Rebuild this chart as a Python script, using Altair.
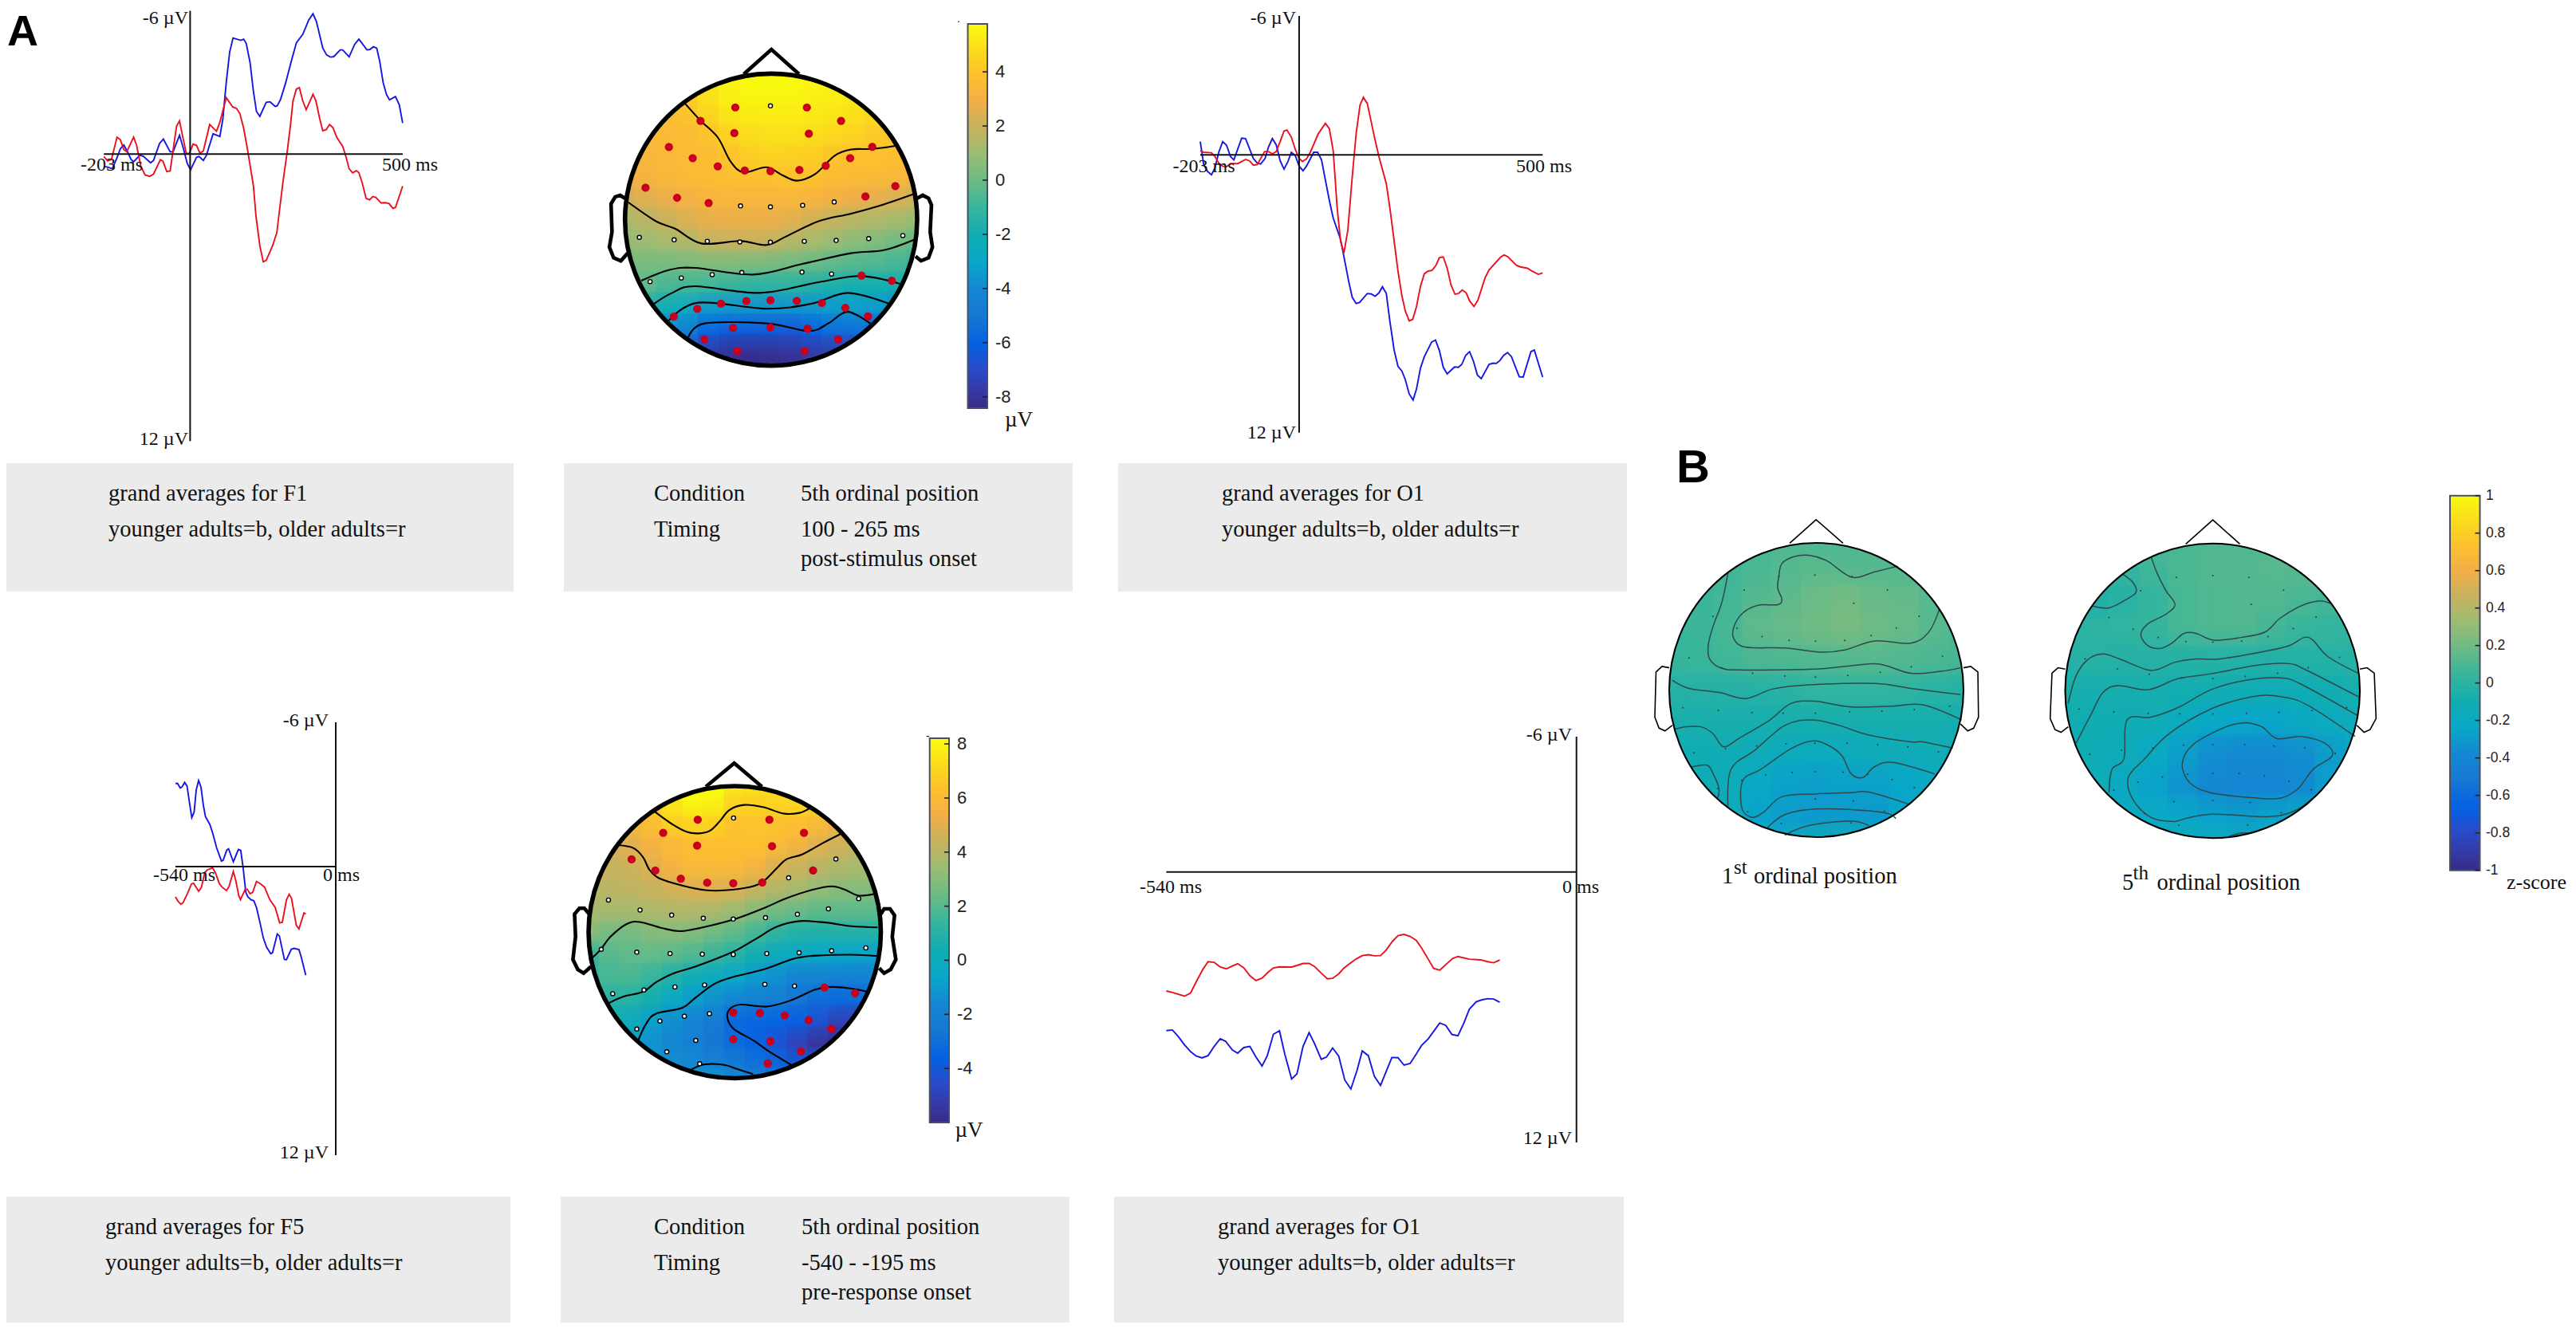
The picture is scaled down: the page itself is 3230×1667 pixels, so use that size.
import altair as alt
import pandas as pd

# ---------------------------------------------------------------- ERP traces (ms, microvolt)
F1_blue_ms = [-203,-194,-183,-173,-164,-156,-147,-139,-133,-118,-110,-93,-86,-72,-63,-47,-40,-25,-15,-7,1,15,21,31,38,54,70,77,85,93,101,119,126,132,141,149,156,164,179,188,200,205,213,225,238,250,265,279,289,297,312,321,330,338,353,359,374,387,397,416,423,431,439,446,454,462,469,483,492,500]
F1_blue_uv = [.51,.54,.61,.19,-.23,-.38,-.09,.22,.32,.04,.09,.36,.26,-.45,-.63,-.10,-.10,-.79,-.19,.38,.66,.13,.10,.26,.06,-.85,-.74,-1.47,-3.0,-4.27,-4.86,-4.76,-4.81,-4.63,-3.83,-2.61,-1.79,-1.58,-2.17,-2.19,-2.0,-2.02,-2.3,-3.0,-3.89,-4.66,-5.01,-5.61,-5.87,-5.55,-4.44,-4.15,-4.06,-4.08,-4.36,-4.36,-4.07,-4.59,-4.81,-4.36,-4.38,-4.49,-4.43,-3.89,-3.0,-2.49,-2.27,-2.41,-2.07,-1.3]
F1_red_ms = [-203,-194,-185,-172,-164,-156,-149,-133,-126,-116,-106,-95,-86,-70,-64,-55,-47,-32,-25,-17,-9,-2,7,15,23,31,46,62,70,85,100,109,117,126,135,142,149,155,164,172,179,194,204,211,219,228,236,242,250,257,265,273,289,296,305,312,320,328,336,345,359,367,374,382,391,397,405,414,422,430,437,449,460,468,477,483,500]
F1_red_uv = [.10,.28,.22,-.71,-.6,-.19,-.1,-.71,-.38,.51,.87,.93,.83,.23,.29,.73,.7,-1.17,-1.39,-.7,-.03,-.03,-.42,-.37,-.04,-.13,-1.24,-.96,-1.34,-2.36,-1.98,-1.91,-1.7,-1.08,-.19,.57,1.34,2.61,3.83,4.5,4.44,3.83,3.28,2.23,1.08,-.06,-1.21,-2.23,-2.72,-2.78,-2.23,-1.86,-2.5,-2.23,-1.47,-.98,-1.02,-1.24,-1.11,-.7,-.32,.13,.61,.78,.69,.77,1.21,1.85,1.91,1.77,1.81,2.04,2.03,2.07,2.27,2.23,1.34]

O1_blue_ms = [-203,-196,-188,-180,-173,-165,-157,-149,-141,-134,-118,-110,-94,-86,-79,-70,-63,-55,-47,-39,-31,-23,-16,-8,0,8,15,30,38,46,55,63,70,85,93,102,109,117,124,140,148,156,164,171,179,186,195,203,211,218,226,234,241,249,257,272,280,288,296,304,319,327,334,342,350,358,366,374,390,398,405,412,420,428,436,452,460,476,483,491,500]
O1_blue_uv = [-.57,.42,.72,.86,.58,-.11,-.57,-.41,.07,.22,-.72,-.7,.16,.36,.4,.16,-.33,-.7,-.43,.26,.62,.29,-.11,.03,.49,.69,.49,-.11,-.11,.22,1.21,2.07,2.73,3.65,4.51,5.49,6.15,6.42,6.38,5.99,6.01,6.11,5.96,5.7,5.99,7.14,8.43,9.14,9.34,9.71,10.33,10.59,10.11,9.22,8.72,8.09,8.0,8.46,9.18,9.46,9.16,9.18,9.05,8.66,8.5,8.92,9.51,9.67,9.05,9.0,9.01,8.89,8.66,8.54,8.72,9.59,9.6,8.5,8.43,8.99,9.6]
O1_red_ms = [-203,-196,-180,-173,-165,-157,-149,-141,-126,-110,-102,-94,-86,-71,-63,-55,-47,-39,-31,-25,-16,-8,0,7,15,23,39,54,62,70,78,85,92,100,109,117,125,132,140,148,156,164,179,187,195,203,211,218,226,233,241,249,257,265,273,281,288,296,304,312,320,327,335,343,350,359,367,382,390,414,421,429,446,454,469,477,491,500]
O1_red_uv = [-.17,-.11,-.09,.07,.36,.49,.51,.38,.38,.2,.26,.45,.42,-.14,-.14,-.04,-.14,-.57,-1.03,-1.07,-.76,-.24,.16,.29,.18,-.11,-.9,-1.36,-1.13,-.17,2.27,3.72,4.24,3.25,.95,-.9,-2.15,-2.48,-2.21,-1.42,-.63,.09,1.25,2.4,3.72,5.03,6.09,6.75,7.17,7.11,6.55,5.69,5.14,5.02,4.99,4.77,4.44,4.41,4.9,5.63,6.02,5.99,5.84,5.96,6.31,6.55,6.28,5.3,4.97,4.41,4.33,4.41,4.77,4.84,4.9,5.01,5.16,5.1]

F5_blue_ms = [-540,-533,-524,-518,-509,-501,-493,-485,-477,-470,-462,-454,-446,-439,-424,-415,-401,-385,-379,-367,-361,-345,-328,-320,-312,-303,-296,-285,-276,-267,-255,-244,-233,-219,-213,-197,-190,-173,-166,-150,-141,-124,-117,-101]
F5_blue_uv = [-3.45,-3.46,-3.27,-3.31,-3.5,-3.35,-2.68,-2.04,-2.27,-3.19,-3.58,-3.31,-2.55,-2.08,-1.75,-1.41,-.77,-.23,-.27,-.69,-.74,-.2,-.71,-.67,.05,1.07,1.26,1.38,1.42,1.7,2.34,2.97,3.35,3.62,3.58,2.8,2.88,3.86,3.87,3.44,3.4,3.45,3.73,4.52]
F5_red_ms = [-540,-531,-522,-515,-500,-486,-479,-462,-453,-441,-433,-415,-406,-392,-383,-368,-359,-345,-336,-327,-321,-305,-298,-289,-280,-267,-254,-240,-222,-204,-189,-180,-166,-157,-149,-133,-124,-107,-101]
F5_red_uv = [1.26,1.45,1.56,1.51,1.13,.72,.69,1.02,.88,.24,.14,.05,.24,.71,.85,1.0,.81,.2,.62,1.19,1.38,.94,.94,1.13,1.07,.62,.71,.85,1.38,1.7,2.34,2.31,1.38,1.15,1.32,2.44,2.59,1.93,1.97]

O1b_red_ms = [-540,-532,-516,-508,-501,-492,-485,-477,-469,-461,-453,-446,-438,-430,-422,-414,-406,-399,-391,-375,-368,-360,-352,-345,-336,-328,-321,-313,-306,-298,-290,-282,-274,-266,-258,-251,-242,-235,-227,-219,-211,-204,-195,-188,-180,-172,-163,-156,-141,-126,-117,-109,-101]
O1b_red_uv = [5.28,5.35,5.51,5.37,4.9,4.33,3.98,4.01,4.22,4.3,4.17,4.07,4.25,4.6,4.82,4.71,4.45,4.26,4.21,4.22,4.15,4.06,4.06,4.19,4.49,4.74,4.72,4.52,4.26,4.05,3.86,3.71,3.67,3.72,3.71,3.48,3.07,2.83,2.77,2.86,3.03,3.37,3.88,4.28,4.36,4.11,3.84,3.75,3.87,3.9,3.98,4.03,3.91]
O1b_blue_ms = [-540,-532,-524,-516,-508,-501,-493,-485,-477,-469,-462,-453,-446,-438,-430,-422,-414,-407,-399,-391,-384,-375,-368,-360,-352,-345,-336,-329,-321,-313,-305,-297,-289,-282,-274,-266,-258,-251,-243,-235,-227,-219,-211,-204,-195,-180,-172,-164,-156,-148,-141,-132,-125,-117,-109,-101]
O1b_blue_uv = [7.04,7.01,7.31,7.67,7.97,8.16,8.25,8.15,7.74,7.4,7.51,7.9,8.04,7.79,7.74,8.21,8.61,8.15,7.2,7.05,8.08,9.19,8.96,7.74,7.13,7.6,8.31,8.21,7.81,8.17,9.23,9.63,8.82,7.94,8.15,9.07,9.47,8.89,8.23,8.24,8.57,8.5,8.08,7.7,7.4,6.7,6.81,7.21,7.27,6.68,6.09,5.76,5.68,5.62,5.64,5.78]

# ---------------------------------------------------------------- scalp maps (head-frame units)
A1_cols = [205,269,333,397,461,525,589,653,717,781,845,909,973,1037,1101]
A1_rows = [240,309,377,446,514,583,651,720,789,857,926,994,1063,1131,1200]
A1_grid = [
 [4.5,4.5,4.5,4.8,5.2,5.6,5.7,5.7,5.7,5.7,5.6,5.5,5.4,5.2,5],
 [3.9,4,4,4.3,5,5.5,5.7,5.7,5.7,5.6,5.5,5.3,5.1,5,4.8],
 [3.6,3.7,3.8,4,4.7,5.2,5.4,5.4,5.4,5.3,5.2,5,4.8,4.6,4.5],
 [3.5,3.5,3.6,3.7,4,4.6,4.9,5,5,4.9,4.8,4.6,4.3,4.1,4],
 [3.3,3.4,3.5,3.6,3.7,3.95,4.4,4.6,4.5,4.4,4,3.9,3.9,3.8,3.7],
 [3.0,3.2,3.4,3.6,3.7,3.8,3.9,3.9,3.95,3.9,3.7,3.6,3.6,3.5,3.2],
 [2.2,2.5,2.8,3.1,3.3,3.4,3.4,3.4,3.4,3.3,3.1,2.9,2.7,2.4,2.1],
 [1.3,1.6,2.0,2.4,2.7,2.8,2.8,2.8,2.6,2.2,1.9,1.6,1.4,1.2,.9],
 [.8,1,1.2,1.4,1.9,1.95,2,1.9,1.5,1.2,.9,.6,.4,.1,-.1],
 [.1,.2,.2,.3,.4,.4,.3,.2,.1,-.1,-.3,-.5,-.6,-.8,-1.1],
 [-.5,-.2,-.7,-.8,-.9,-1.1,-1.3,-1.4,-1.4,-1.6,-1.8,-2,-2,-2.1,-2.3],
 [-3,-2.5,-2.2,-2.7,-3.5,-3.6,-3.7,-3.8,-3.7,-3.6,-3.4,-3.3,-3.5,-3.9,-4],
 [-4.5,-4.5,-4.3,-4.6,-5.8,-6.2,-6.3,-6.3,-6.4,-5.9,-5.5,-5.4,-6.1,-6.2,-6],
 [-6,-6,-6,-6.4,-7.6,-8.1,-8.2,-8.1,-8,-7.7,-7.6,-7.7,-7,-7,-7],
 [-6.5,-6.5,-6.5,-7,-7.9,-8.3,-8.4,-8.4,-8.2,-8,-7.8,-7.5,-7,-7,-7],
]
A1_contours = [
 [(390,340),(437,395),(490,450),(530,530),(570,565),(640,548),(690,575),(735,592),(790,570),(850,510),(900,490),(965,488),(1035,478)],
 [(215,663),(300,725),(360,750),(440,798),(560,790),(640,803),(700,775),(800,725),(900,700),(1000,670),(1095,635)],
 [(255,920),(340,885),(420,878),(600,900),(750,865),(900,830),(1000,820),(1095,785)],
 [(295,995),(350,960),(420,938),(620,960),(800,925),(930,905),(1050,930)],
 [(340,1050),(430,992),(640,1012),(780,995),(890,960),(1015,995)],
 [(400,1105),(450,1060),(640,1060),(770,1085),(830,1060),(890,1022),(965,1065)],
]
A1_red = [(544,352),(764,352),(869,396),(437,396),(541,436),(770,438),(340,482),(965,481),(413,518),(897,518),(490,545),(573,559),(652,561),(741,557),(822,543),(268,615),(1036,610),(365,648),(462,665),(944,644),(932,903),(1025,920),(355,1038),(427,1012),(500,995),(578,987),(652,984),(733,986),(810,993),(882,1009),(952,1037),(537,1075),(652,1073),(766,1077),(449,1112),(860,1112),(550,1151),(758,1151)]
A1_open = [(652,347),(560,675),(652,678),(751,673),(848,662),(249,778),(356,786),(458,791),(558,793),(652,794),(756,791),(854,788),(954,782),(1059,772),(282,923),(378,911),(473,900),(564,893),(749,892),(840,898)]
A1_outline = [
 [(570,243),(655,162),(740,243)],
 [(205,650),(190,640),(175,645),(162,668),(165,760),(157,810),(170,845),(192,855),(213,830)],
 [(1103,650),(1120,640),(1138,650),(1147,672),(1143,760),(1150,810),(1138,845),(1115,855),(1098,840)],
]

A2_cols = [143,207,271,335,399,463,527,591,655,719,783,847,911,975,1039]
A2_rows = [238,312,385,459,533,607,680,754,828,901,975,1049,1123,1196,1270]
A2_grid = [
 [6.5,6.5,7,7.5,7.8,8.1,8.2,7.8,7.5,7.3,7.2,7,6.8,6.5,6.5],
 [6,6.2,6.5,7,7.6,8.2,8.1,7.1,7,7.1,7.3,7,6.7,6.3,6],
 [5.5,5.7,5.9,6.2,6.9,7.1,7,6.4,6.5,6.4,6.3,6.1,5.3,5,4.8],
 [4.8,4.9,5,5.6,6,6.2,6.3,6.3,6.3,6,5.7,5,4.6,4.3,4.1],
 [4.4,4.4,4.5,4.9,5.6,6,6,6,5.7,4.9,4.5,4.1,3.9,3.7,3.5],
 [4.1,4.1,4.2,4.4,4.7,4.95,5,4.9,4.4,4,3.7,3.3,3,3,2.9],
 [3.7,3.7,3.7,3.8,3.9,3.9,3.8,3.5,3,2.6,2.4,2.2,2.2,2.2,2.2],
 [3.1,2.7,2.6,2.9,3,2.9,2.5,2.2,1.7,1.2,.9,.8,.9,.9,.9],
 [1.2,2,2.2,2.3,2.1,1.9,1.5,1,.4,-.1,-.3,-.5,-.6,-.7,-.8],
 [1.2,1.7,1.8,1.4,.9,.2,-.2,-.5,-1,-1.4,-1.9,-1.9,-2,-2,-2],
 [1,1,1,.5,-.3,-.9,-1.3,-1.7,-2,-2.2,-2.7,-3.1,-3.2,-3.2,-3],
 [.6,.4,0,-.8,-1.4,-1.8,-2.4,-3.3,-3.4,-3.5,-3.7,-4.3,-5,-5,-4.5],
 [-.5,-.6,-.8,-1.2,-1.7,-2.1,-2.6,-3.1,-3.6,-4.2,-5,-5.6,-5.8,-5.2,-4.5],
 [-.5,-.6,-.9,-1.1,-1.4,-1.6,-2,-2.3,-2.8,-3.3,-3.8,-4,-4,-4,-4],
 [-.5,-.5,-.6,-.7,-.9,-.9,-1,-1.5,-2,-2.4,-3,-3,-3,-3,-3],
]
A2_contours = [
 [(343,328),(400,375),(445,402),(480,407),(515,398),(545,365),(575,325),(620,307),(680,315),(740,337),(790,335),(822,318)],
 [(232,448),(280,458),(310,490),(330,535),(360,565),(430,590),(500,606),(560,607),(640,595),(680,575),(720,530),(750,498),(800,480),(860,442),(918,408)],
 [(1018,620),(970,625),(930,605),(890,593),(830,605),(750,635),(680,670),(600,705),(520,730),(430,750),(370,740),(300,718),(260,725),(210,770),(180,815),(150,848)],
 [(205,1003),(250,980),(310,963),(350,930),(400,900),(470,875),(540,845),(600,815),(660,775),(720,735),(790,715),(870,720),(950,733),(1030,737)],
 [(295,1135),(320,1075),(350,1040),(430,1020),(470,985),(530,935),(590,910),(680,885),(780,845),(860,835),(950,833),(1030,838)],
 [(765,1220),(700,1175),(650,1135),(590,1095),(570,1060),(575,1025),(610,1008),(690,1015),(760,995),(840,955),(890,946),(950,952),(998,963)],
 [(455,1238),(500,1218),(560,1220),(600,1235),(648,1252)],
]
A2_red = [(478,359),(698,359),(372,405),(804,405),(476,450),(706,452),(275,498),(348,537),(426,566),(507,580),(587,582),(676,579),(832,537),(867,948),(961,968),(587,1036),(669,1038),(745,1046),(818,1063),(888,1093),(587,1130),(701,1137),(795,1173),(693,1215)]
A2_open = [(588,353),(902,497),(757,563),(204,641),(972,636),(301,676),(398,694),(495,705),(587,708),(686,703),(784,691),(879,672),(182,814),(291,824),(393,829),(492,831),(587,832),(690,829),(789,826),(889,819),(994,809),(217,970),(313,957),(408,946),(499,939),(684,937),(775,943),(514,1040),(437,1049),(362,1066),(291,1094),(472,1134),(383,1174),(484,1216)]
A2_outline = [
 [(503,243),(590,160),(675,243)],
 [(145,690),(130,670),(115,670),(100,690),(103,770),(95,850),(110,885),(128,898),(150,875)],
 [(1040,690),(1050,672),(1068,672),(1082,695),(1075,770),(1086,850),(1070,885),(1050,898),(1035,880)],
]

B1_cols = [57,106,155,204,253,302,352,401,450,499,548]
B1_rows = [232,340,448,555,663,771,879,987,1094,1202,1310]
B1_grid = [
 [.05,.05,.08,.08,.1,.1,.1,.1,.1,.1,.1],
 [.05,.05,.07,.09,.12,.13,.12,.12,.11,.1,.1],
 [.03,.05,.07,.12,.14,.18,.2,.17,.16,.12,.1],
 [.03,.05,.08,.15,.17,.2,.22,.19,.17,.13,.1],
 [.03,.05,.07,.1,.11,.12,.13,.13,.12,.1,.08],
 [-.02,-.02,-.02,-.02,-.01,.02,.02,.02,.01,-.01,-.02],
 [-.07,-.07,-.07,-.08,-.08,-.08,-.08,-.08,-.08,-.08,-.1],
 [-.1,-.12,-.12,-.14,-.17,-.18,-.17,-.15,-.14,-.13,-.13],
 [-.1,-.12,-.14,-.22,-.27,-.28,-.27,-.27,-.24,-.2,-.17],
 [-.12,-.14,-.16,-.26,-.28,-.3,-.3,-.3,-.24,-.2,-.15],
 [-.14,-.14,-.14,-.18,-.2,-.1,-.1,-.12,-.18,-.18,-.18],
]
B1_contours = [
 [(155,345),(145,450),(130,540),(122,610),(125,660),(145,692),(180,698),(300,695),(370,680),(410,677),(460,710),(510,703),(543,690)],
 [(438,320),(400,340),(362,360),(320,300),(290,280),(265,285),(245,310),(240,355),(238,400),(245,440),(238,460),(205,462),(180,490),(165,540),(165,585),(185,615),(250,618),(310,633),(350,625),(400,592),(460,600),(490,560),(508,475)],
 [(62,735),(90,765),(140,780),(185,802),(230,767),(290,752),(400,747),(460,765),(543,788)],
 [(545,880),(480,825),(430,830),(360,833),(300,812),(260,820),(225,880),(175,945),(148,978),(130,930),(110,905),(85,905),(65,915)],
 [(155,1195),(160,1060),(200,990),(250,900),(295,880),(340,900),(390,935),(460,960),(480,960),(530,983)],
 [(500,1077),(430,1035),(400,1050),(380,1090),(360,1075),(345,1010),(320,970),(295,957),(260,985),(210,1060),(180,1100),(178,1200),(195,1235),(215,1215),(245,1160),(300,1150),(360,1145),(390,1143),(458,1188)],
 [(220,1275),(250,1225),(300,1205),(370,1208),(420,1220),(435,1240)],
 [(250,1300),(290,1265),(360,1248),(390,1265)],
 [(93,1052),(120,1045),(130,1075),(140,1130),(137,1170)],
]
B1_dots = [(300,352),(240,358),(362,358),(182,407),(421,406),(130,503),(474,502),(170,546),(436,545),(212,576),(257,590),(301,593),(350,590),(394,573),(365,455),(90,654),(513,648),(144,690),(461,687),(196,710),(250,720),(301,724),(355,718),(409,706),(80,836),(139,846),(195,853),(247,855),(301,855),(358,851),(412,848),(466,842),(525,830),(98,1000),(151,985),(203,975),(252,967),(300,965),(354,965),(405,971),(455,978),(506,997),(178,1100),(218,1081),(262,1072),(301,1069),(347,1070),(388,1078),(429,1097),(138,1130),(466,1128),(188,1215),(301,1168),(364,1175),(416,1213),(244,1258),(360,1255)]
B1_outline = [
 [(258,236),(302,150),(347,236)],
 [(57,690),(45,685),(35,705),(33,870),(40,910),(50,920),(62,900)],
 [(548,690),(560,685),(572,705),(573,870),(565,910),(555,920),(543,895)],
]

B2_cols = [717,766,815,864,913,963,1012,1061,1110,1159,1208]
B2_rows = [233,341,449,558,666,774,882,990,1098,1207,1315]
B2_grid = [
 [.03,.05,.06,.08,.1,.1,.1,.1,.1,.1,.1],
 [.02,.02,.03,.07,.1,.12,.12,.13,.13,.1,.1],
 [-.02,-.05,-.02,.03,.09,.11,.12,.12,.1,.08,.06],
 [0,0,.02,.03,.09,.11,.12,.08,.05,.03,.02],
 [-.02,-.01,-.02,-.02,-.02,-.02,-.03,-.03,-.03,-.02,-.02],
 [-.07,-.08,-.08,-.08,-.1,-.1,-.12,-.13,-.12,-.1,-.08],
 [-.1,-.11,-.12,-.13,-.18,-.23,-.25,-.25,-.2,-.17,-.15],
 [-.1,-.12,-.15,-.2,-.28,-.35,-.38,-.38,-.35,-.28,-.2],
 [-.1,-.13,-.2,-.26,-.33,-.39,-.4,-.4,-.37,-.27,-.2],
 [-.12,-.14,-.18,-.2,-.23,-.26,-.28,-.25,-.22,-.2,-.18],
 [-.12,-.14,-.14,-.14,-.14,-.14,-.15,-.16,-.16,-.16,-.16],
]
B2_contours = [
 [(860,285),(870,345),(885,410),(900,460),(885,495),(855,530),(843,570),(855,610),(875,620),(895,600),(915,565),(935,565),(965,590),(1010,580),(1050,560),(1075,510),(1110,465),(1140,447),(1160,457)],
 [(812,348),(830,380),(835,415),(820,440),(790,472),(762,465)],
 [(722,820),(735,720),(755,660),(780,640),(810,660),(860,700),(900,670),(935,658),(975,658),(1050,630),(1090,610),(1115,580),(1130,590),(1155,650),(1205,710)],
 [(735,965),(760,860),(780,780),(805,755),(855,770),(905,730),(960,712),(1040,680),(1090,675),(1120,700),(1205,795)],
 [(790,1145),(795,1060),(815,1020),(820,880),(860,870),(905,835),(960,770),(1020,735),(1075,727),(1110,750),(1205,865)],
 [(900,1250),(860,1235),(830,1170),(822,1090),(850,1020),(890,930),(960,840),(1030,795),(1075,795),(1120,825),(1200,940)],
 [(1020,890),(1045,905),(1070,948),(1110,940),(1150,965),(1162,1010),(1130,1060),(1105,1130),(1075,1165),(1030,1163),(960,1145),(925,1110),(912,1040),(930,970),(985,905),(1020,890)],
 [(900,1250),(960,1223),(1050,1232),(1100,1210),(1145,1135)],
 [(990,1303),(1010,1292),(1028,1292)],
]
B2_dots = [(963,355),(902,361),(1023,361),(843,410),(1081,408),(790,507),(1135,506),(830,550),(1097,548),(872,580),(918,595),(963,597),(1011,593),(1055,577),(1027,459),(750,658),(1174,652),(804,694),(1122,690),(857,714),(911,726),(963,730),(1017,722),(1071,710),(740,841),(798,851),(855,857),(908,858),(963,858),(1019,856),(1073,852),(1128,846),(1186,835),(758,1005),(811,990),(863,982),(914,972),(963,970),(1016,969),(1065,975),(1116,982),(1167,1002),(838,1106),(879,1087),(921,1078),(963,1074),(1007,1075),(1049,1084),(1090,1103),(798,1135),(1127,1134),(849,1220),(898,1177),(963,1173),(1025,1180),(1077,1218),(906,1263),(1021,1263)]
B2_outline = [
 [(918,240),(963,152),(1008,240)],
 [(717,695),(705,690),(695,710),(692,875),(700,915),(710,925),(722,905)],
 [(1208,695),(1220,690),(1232,710),(1235,875),(1225,915),(1215,925),(1203,900)],
]

# colour bar: position along the bar, colour
MAP_POS = [0, .03, .10, .17, .241, .311, .382, .452, .523, .593, .664, .734, .805, .868, .925, 1]
MAP_COL = ["#352A87", "#38349A", "#2A4AC8", "#0562E2", "#1678D2", "#1488D2", "#08A8C8", "#12ADB0", "#38B59C",
           "#6CBB85", "#9DBC72", "#C8B25E", "#F5AF45", "#FCC12E", "#FBD81E", "#F9FB0E"]

A1_ticks = [4, 2, 0, -2, -4, -6, -8]
A2_ticks = [8, 6, 4, 2, 0, -2, -4]
B_ticks = [1, .8, .6, .4, .2, 0, -.2, -.4, -.6, -.8, -1]
B_tick_text = ["1", "0.8", "0.6", "0.4", "0.2", "0", "-0.2", "-0.4", "-0.6", "-0.8", "-1"]

SERIF = "Liberation Serif"
SANS = "Liberation Sans"
BLUE, RED = "#1616e2", "#ea1020"
OFF = 8
layers = []


def P(a, b):
    return [a - OFF, b - OFF]


def scale(d0, d1, p0, p1):
    return alt.Scale(domain=[d0, d1], range=P(p0, p1), nice=False, zero=False)


def col(v, vmin, vmax):
    t = min(1, max(0, (v - vmin) / (vmax - vmin)))
    i = 0
    while i < len(MAP_POS) - 2 and MAP_POS[i + 1] < t:
        i += 1
    f = (t - MAP_POS[i]) / (MAP_POS[i + 1] - MAP_POS[i])
    a = [int(MAP_COL[i][k:k + 2], 16) for k in (1, 3, 5)]
    b = [int(MAP_COL[i + 1][k:k + 2], 16) for k in (1, 3, 5)]
    return "#%02x%02x%02x" % tuple(round(p + (q - p) * f) for p, q in zip(a, b))


def grad(vals, vmin, vmax, horizontal):
    n = len(vals) - 1
    return {"gradient": "linear", "x1": 0, "y1": 0, "x2": 1 if horizontal else 0, "y2": 0 if horizontal else 1,
            "stops": [{"offset": round(i / n, 4), "color": col(v, vmin, vmax)} for i, v in enumerate(vals)]}


def text(s, x, y, size=24, align="left", font=SERIF, weight="normal", color="#111111"):
    layers.append(alt.Chart(pd.DataFrame({"t": [s]})).mark_text(
        font=font, fontSize=size, align=align, baseline="alphabetic", fontWeight=weight, color=color
    ).encode(x=alt.value(x - OFF), y=alt.value(y - OFF), text="t:N"))


def erp(tr_ms, tr_uv, color, xd, xr, yr):
    df = pd.DataFrame({"ms": tr_ms, "uv": tr_uv, "i": range(len(tr_ms))})
    layers.append(alt.Chart(df).mark_line(color=color, strokeWidth=1.9).encode(
        x=alt.X("ms:Q", axis=None, scale=scale(xd[0], xd[1], xr[0], xr[1])),
        y=alt.Y("uv:Q", axis=None, scale=scale(-6, 12, yr[0], yr[1])),
        order="i:Q"))


def erp_axes(xd, xr, yr):
    lx = pd.DataFrame({"ms": xd, "uv": [0, 0]})
    layers.append(alt.Chart(lx).mark_line(color="#111111", strokeWidth=2).encode(
        x=alt.X("ms:Q", axis=None, scale=scale(xd[0], xd[1], xr[0], xr[1])),
        y=alt.Y("uv:Q", axis=None, scale=scale(-6, 12, yr[0], yr[1]))))
    ly = pd.DataFrame({"ms": [0, 0], "uv": [-6, 12]})
    layers.append(alt.Chart(ly).mark_line(color="#111111", strokeWidth=2).encode(
        x=alt.X("ms:Q", axis=None, scale=scale(xd[0], xd[1], xr[0], xr[1])),
        y=alt.Y("uv:Q", axis=None, scale=scale(-6, 12, yr[0], yr[1])),
        order="uv:Q"))


def head_heat(grid, cols, rows, hx, hy, vmin, vmax):
    sx, sy = scale(*hx), scale(*hy)
    dx = (cols[1] - cols[0]) * .52
    dy = (rows[1] - rows[0]) * .52
    row_cells = [{"a": cols[0] - dx, "b": cols[-1] + dx, "c": y - dy, "d": y + dy,
                  "g": grad(grid[i], vmin, vmax, True)} for i, y in enumerate(rows)]
    col_cells = [{"a": x - dx, "b": x + dx, "c": rows[0] - dy, "d": rows[-1] + dy,
                  "g": grad([r[j] for r in grid], vmin, vmax, False)} for j, x in enumerate(cols)]
    for cells, op in ((row_cells, 1), (col_cells, .72)):
        layers.append(alt.Chart(alt.Data(values=cells)).mark_rect(opacity=op).encode(
            x=alt.X("a:Q", axis=None, scale=sx), x2="b:Q",
            y=alt.Y("c:Q", axis=None, scale=sy), y2="d:Q",
            fill=alt.Fill("g:N", scale=None, legend=None)))


def center_df(hx, hy):
    return pd.DataFrame({"x": [(hx[0] + hx[1]) / 2], "y": [(hy[0] + hy[1]) / 2]})


def head_ring(hx, hy):
    R = (hx[3] - hx[2]) / 2
    w = 125
    layers.append(alt.Chart(center_df(hx, hy)).mark_point(
        shape="circle", filled=False, stroke="white", strokeWidth=w, opacity=1, size=(2 * R + w) ** 2
    ).encode(x=alt.X("x:Q", axis=None, scale=scale(*hx)), y=alt.Y("y:Q", axis=None, scale=scale(*hy))))


def head_lines(contours, outline, hx, hy, cw, cc, lw):
    sx, sy = scale(*hx), scale(*hy)
    for group, interp, width, color in ((contours, "cardinal", cw, cc), (outline, "linear", lw, "#000000")):
        for pts in group:
            df = pd.DataFrame({"x": [p[0] for p in pts], "y": [p[1] for p in pts], "i": range(len(pts))})
            layers.append(alt.Chart(df).mark_line(color=color, strokeWidth=width, interpolate=interp).encode(
                x=alt.X("x:Q", axis=None, scale=sx), y=alt.Y("y:Q", axis=None, scale=sy), order="i:Q"))
    R = (hx[3] - hx[2]) / 2
    layers.append(alt.Chart(center_df(hx, hy)).mark_point(
        shape="circle", filled=False, stroke="#000000", strokeWidth=lw + (1 if lw > 3 else 0.5), opacity=1, size=(2 * R) ** 2
    ).encode(x=alt.X("x:Q", axis=None, scale=sx), y=alt.Y("y:Q", axis=None, scale=sy)))


def dots(pts, hx, hy, **kw):
    df = pd.DataFrame({"x": [p[0] for p in pts], "y": [p[1] for p in pts]})
    layers.append(alt.Chart(df).mark_point(shape="circle", opacity=1, **kw).encode(
        x=alt.X("x:Q", axis=None, scale=scale(*hx)), y=alt.Y("y:Q", axis=None, scale=scale(*hy))))


def colorbar(x0, x1, y0, y1, vmin, vmax, ticks, labels, size, lab_x):
    g = {"gradient": "linear", "x1": 0, "y1": 1, "x2": 0, "y2": 0,
         "stops": [{"offset": p, "color": c} for p, c in zip(MAP_POS, MAP_COL)]}
    layers.append(alt.Chart(pd.DataFrame({"a": [0]})).mark_rect(fill=g, stroke="#4a5060", strokeWidth=2).encode(
        x=alt.value(x0 - OFF), x2=alt.value(x1 - OFF), y=alt.value(y0 - OFF), y2=alt.value(y1 - OFF)))
    df = pd.DataFrame({"v": ticks, "t": labels})
    sy = scale(vmin, vmax, y1, y0)
    layers.append(alt.Chart(df).mark_rule(color="#222222", strokeWidth=1.6).encode(
        x=alt.value(x1 - 6 - OFF), x2=alt.value(x1 - OFF), y=alt.Y("v:Q", axis=None, scale=sy)))
    layers.append(alt.Chart(df).mark_text(font=SANS, fontSize=size, align="left", baseline="middle", color="#222222").encode(
        x=alt.value(lab_x - OFF), y=alt.Y("v:Q", axis=None, scale=sy), text="t:N"))


# frames: (head-unit low, head-unit high, pixel low, pixel high)
A1x, A1y = (205, 1103, 783.7, 1150), (240, 1200, 91.9, 459.2)
A2x, A2y = (143, 1040, 738, 1104.5), (238, 1270, 985, 1353.6)
B1x, B1y = (57, 548, 2093, 2462), (232, 1310, 680, 1051)
B2x, B2y = (717, 1208, 2589.5, 2959), (233, 1315, 680, 1053)

# heat first, then the white masks, then everything else
head_heat(A1_grid, A1_cols, A1_rows, A1x, A1y, -8.42, 5.77)
head_heat(A2_grid, A2_cols, A2_rows, A2x, A2y, -6.0, 8.21)
head_heat(B1_grid, B1_cols, B1_rows, B1x, B1y, -1, 1)
head_heat(B2_grid, B2_cols, B2_rows, B2x, B2y, -1, 1)
for hx, hy in ((A1x, A1y), (A2x, A2y), (B1x, B1y), (B2x, B2y)):
    head_ring(hx, hy)

head_lines(A1_contours, A1_outline, A1x, A1y, 2.1, "#000000", 4.6)
head_lines(A2_contours, A2_outline, A2x, A2y, 2.1, "#000000", 4.6)
head_lines(B1_contours, B1_outline, B1x, B1y, 1.5, "#2c4a4c", 1.6)
head_lines(B2_contours, B2_outline, B2x, B2y, 1.5, "#2c4a4c", 1.6)

for hx, hy, red, op in ((A1x, A1y, A1_red, A1_open), (A2x, A2y, A2_red, A2_open)):
    dots(op, hx, hy, filled=False, fill="#ffffff", stroke="#000000", strokeWidth=1.4, size=26)
    dots(red, hx, hy, filled=True, color="#c8001e", size=105)
dots(B1_dots, B1x, B1y, filled=True, color="#24403f", size=4)
dots(B2_dots, B2x, B2y, filled=True, color="#24403f", size=4)

colorbar(1213.5, 1238, 30, 512, -8.42, 5.77, A1_ticks, [str(v) for v in A1_ticks], 22, 1248)
colorbar(1165.7, 1190, 926, 1408, -6.0, 8.21, A2_ticks, [str(v) for v in A2_ticks], 22, 1200)
colorbar(3072, 3109.5, 621.7, 1091.7, -1, 1, B_ticks, B_tick_text, 17.5, 3117)

# ERP panels
P1 = ([-203, 500], (130.2, 504.9), (13.4, 553.3))
P3 = ([-203, 500], (1505, 1934.3), (19.9, 542.7))
P4 = ([-540, 0], (220, 421), (906, 1449))
P6 = ([-540, 0], (1462.4, 1976.7), (924, 1433))
for panel, traces in ((P1, ((F1_blue_ms, F1_blue_uv, BLUE), (F1_red_ms, F1_red_uv, RED))),
                      (P3, ((O1_blue_ms, O1_blue_uv, BLUE), (O1_red_ms, O1_red_uv, RED))),
                      (P4, ((F5_blue_ms, F5_blue_uv, BLUE), (F5_red_ms, F5_red_uv, RED))),
                      (P6, ((O1b_blue_ms, O1b_blue_uv, BLUE), (O1b_red_ms, O1b_red_uv, RED)))):
    for t_ms, t_uv, c in traces:
        erp(t_ms, t_uv, c, *panel)
    erp_axes(*panel)

text("-6 µV", 236, 30, align="right")
text("12 µV", 236, 558, align="right")
text("-203 ms", 101, 213.5)
text("500 ms", 479, 213.5)
text("-6 µV", 1625, 30, align="right")
text("12 µV", 1625, 550, align="right")
text("-203 ms", 1470.6, 216)
text("500 ms", 1901, 216)
text("-6 µV", 412, 911, align="right")
text("12 µV", 412, 1453, align="right")
text("-540 ms", 192, 1105)
text("0 ms", 405, 1105)
text("-6 µV", 1971, 929, align="right")
text("12 µV", 1971, 1435, align="right")
text("-540 ms", 1429, 1120)
text("0 ms", 1959, 1120)

# grey caption boxes
BOXES = [(6, 644, 581, 742), (707, 1345, 581, 742), (1402, 2040, 581, 742),
         (8, 640, 1501, 1659), (703, 1341, 1501, 1659), (1397, 2036, 1501, 1659)]
for x0, x1, y0, y1 in BOXES:
    layers.append(alt.Chart(pd.DataFrame({"a": [0]})).mark_rect(fill="#ebebeb").encode(
        x=alt.value(x0 - OFF), x2=alt.value(x1 - OFF), y=alt.value(y0 - OFF), y2=alt.value(y1 - OFF)))

CAP = 28.5
text("grand averages for F1", 136, 628, CAP)
text("younger adults=b, older adults=r", 136, 673, CAP)
text("Condition", 820, 628, CAP)
text("5th ordinal position", 1004, 628, CAP)
text("Timing", 820, 673, CAP)
text("100 - 265 ms", 1004, 673, CAP)
text("post-stimulus onset", 1004, 710, CAP)
text("grand averages for O1", 1532, 628, CAP)
text("younger adults=b, older adults=r", 1532, 673, CAP)
text("grand averages for F5", 132, 1548, CAP)
text("younger adults=b, older adults=r", 132, 1593, CAP)
text("Condition", 820, 1548, CAP)
text("5th ordinal position", 1005, 1548, CAP)
text("Timing", 820, 1593, CAP)
text("-540 - -195 ms", 1005, 1593, CAP)
text("pre-response onset", 1005, 1630, CAP)
text("grand averages for O1", 1527, 1548, CAP)
text("younger adults=b, older adults=r", 1527, 1593, CAP)

text("A", 9, 57, 54, font=SANS, weight="bold", color="#000000")
text("B", 2102, 605, 58, font=SANS, weight="bold", color="#000000")
text("µV", 1260, 535, 27)
text("µV", 1197.5, 1426, 27)
text("z-score", 3143, 1115, 26)
text("1", 2159, 1108, 28.5)
text("st", 2174, 1096, 25)
text("ordinal position", 2199, 1108, 28.5)
text("5", 2661, 1115.5, 28.5)
text("th", 2674.5, 1103, 25)
text("ordinal position", 2704.6, 1115.5, 28.5)
text("-", 1161, 928, 14, font=SANS)
text(".", 1200, 28, 14, font=SANS)

chart = alt.layer(*layers).resolve_scale(x="independent", y="independent").properties(
    width=3214, height=1651, padding=0, background="white",
    autosize=alt.AutoSizeParams(type="none")
).configure_view(stroke=None)

chart.save("out.html", embed_options={"renderer": "svg", "actions": False})
